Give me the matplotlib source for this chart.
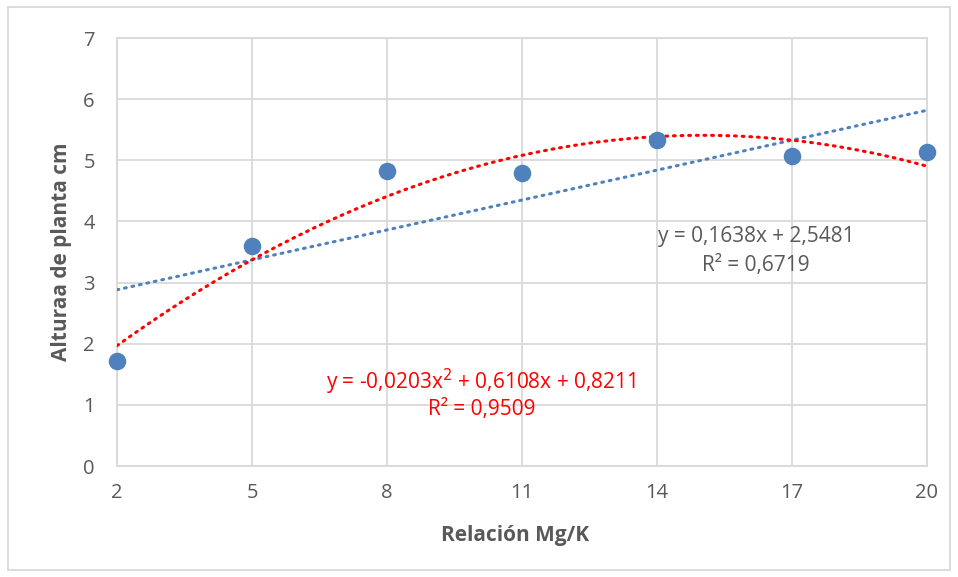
import matplotlib
matplotlib.use("Agg")
import matplotlib.pyplot as plt
from matplotlib.patches import Rectangle
import numpy as np

# datos
relacion = [2, 5, 8, 11, 14, 17, 20]
altura = [1.72, 3.59, 4.82, 4.79, 5.33, 5.07, 5.13]
eq_lineal = ["y = 0,1638x + 2,5481", "R² = 0,6719"]
eq_poli = ["y = -0,0203x$^2$ + 0,6108x + 0,8211", "R² = 0,9509"]

gris = "#595959"
azul = "#4f81bd"
rojo = "#ff0000"
plt.rcParams["font.family"] = ["Open Sans", "DejaVu Sans"]

fig = plt.figure(figsize=(9.58, 5.77), dpi=100)
ax = fig.add_axes([117 / 958, 1 - 466 / 577, 810 / 958, 428 / 577])

# lineas de tendencia (ajustadas a los datos)
xs = np.linspace(min(relacion), max(relacion), 200)
p1 = np.polyfit(relacion, altura, 1)
p2 = np.polyfit(relacion, altura, 2)
ax.plot(xs, np.polyval(p1, xs), color=azul, lw=2.2, ls=(0, (0.6, 1.9)),
        dash_capstyle="round", zorder=3)
ax.plot(xs, np.polyval(p2, xs), color=rojo, lw=2.2, ls=(0, (0.6, 1.9)),
        dash_capstyle="round", zorder=3)

ax.scatter(relacion, altura, s=135, color=azul, zorder=4, clip_on=False)

ax.set_xlim(2, 20)
ax.set_ylim(0, 7)
ax.set_xticks(relacion)
ax.set_yticks(range(0, 8))
ax.grid(True, color="#d9d9d9", lw=1.3)
ax.set_axisbelow(True)
for s in ax.spines.values():
    s.set_color("#d9d9d9")
    s.set_linewidth(1.3)
ax.tick_params(length=0, labelsize=14.5, colors=gris)
ax.tick_params(axis="y", pad=16)
ax.tick_params(axis="x", pad=12)

ax.set_xlabel("Relación Mg/K", fontsize=15, fontweight="bold", color=gris)
ax.xaxis.set_label_coords(0.491, -0.138)
ax.set_ylabel("Alturaa de planta cm", fontsize=15, fontweight="bold", color=gris)
ax.yaxis.set_label_coords(-0.056, 0.5)

ax.text(16.2, 3.76, eq_lineal[0], fontsize=15, color=gris, ha="center", va="center")
ax.text(16.2, 3.28, eq_lineal[1], fontsize=15, color=gris, ha="center", va="center")
ax.text(10.1, 1.38, eq_poli[0], fontsize=15, color=rojo, ha="center", va="center")
ax.text(10.1, 0.93, eq_poli[1], fontsize=15, color=rojo, ha="center", va="center")

fig.patches.append(Rectangle((8 / 958, 1 - 570 / 577), 942 / 958, 563 / 577,
                             transform=fig.transFigure, fill=False,
                             edgecolor="#d9d9d9", lw=1.3))

fig.savefig("out.png", dpi=100)
